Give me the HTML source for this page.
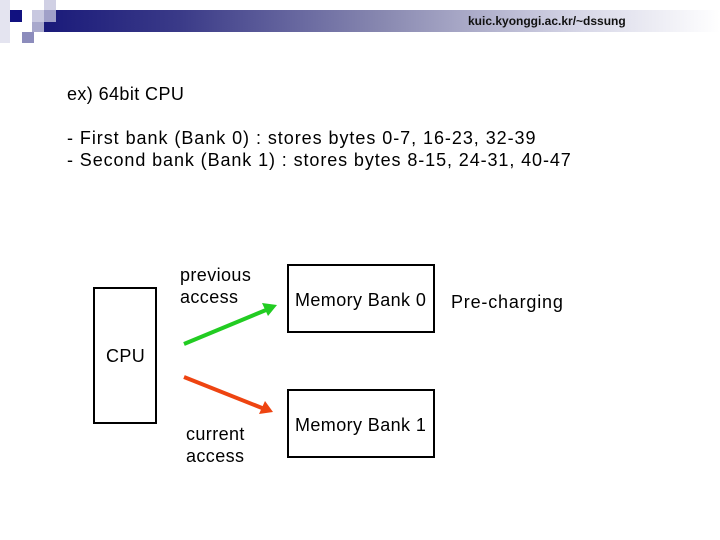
<!DOCTYPE html>
<html><head><meta charset="utf-8"><style>
body{margin:0;width:720px;height:540px;background:#fff;position:relative;overflow:hidden;font-family:"Liberation Sans",sans-serif;color:#000}
.a{position:absolute}
.t{position:absolute;font-size:18px;white-space:nowrap;line-height:22px;letter-spacing:0.4px}
.box{position:absolute;border:2px solid #000;box-sizing:border-box}
</style></head><body>
<div class="a" style="left:44px;top:10px;width:676px;height:22px;background:linear-gradient(to right,#1a1a7a 0%,#3a3a88 20%,#8888b0 50%,#d8d8e8 80%,#fff 100%)"></div>
<div class="a" style="left:0;top:0;width:10px;height:43px;background:#e4e4f0"></div>
<div class="a" style="left:10px;top:10px;width:12px;height:12px;background:#111180"></div>
<div class="a" style="left:32px;top:10px;width:12px;height:12px;background:#c8c8e0"></div>
<div class="a" style="left:44px;top:0;width:12px;height:10px;background:#d0d0e4"></div>
<div class="a" style="left:44px;top:10px;width:12px;height:12px;background:#a0a0c8"></div>
<div class="a" style="left:32px;top:22px;width:12px;height:10px;background:#a8a8cc"></div>
<div class="a" style="left:22px;top:32px;width:12px;height:11px;background:#8c8cbc"></div>
<div class="t" style="left:468px;top:11px;font-size:12px;line-height:20px;font-weight:bold;color:#111;letter-spacing:0">kuic.kyonggi.ac.kr/~dssung</div>
<div class="t" style="left:67px;top:83px;letter-spacing:0.4px">ex) 64bit CPU</div>
<div class="t" style="left:67px;top:127px;letter-spacing:0.95px">- First bank (Bank 0) : stores bytes 0-7, 16-23, 32-39</div>
<div class="t" style="left:67px;top:149px;letter-spacing:0.9px">- Second bank (Bank 1) : stores bytes 8-15, 24-31, 40-47</div>
<div class="box" style="left:93px;top:287px;width:64px;height:137px"></div>
<div class="t" style="left:106px;top:345px">CPU</div>
<div class="box" style="left:287px;top:264px;width:148px;height:69px"></div>
<div class="t" style="left:295px;top:289px">Memory Bank 0</div>
<div class="box" style="left:287px;top:389px;width:148px;height:69px"></div>
<div class="t" style="left:295px;top:414px">Memory Bank 1</div>
<div class="t" style="left:451px;top:291px;letter-spacing:0.8px">Pre-charging</div>
<div class="t" style="left:180px;top:264px">previous<br>access</div>
<div class="t" style="left:186px;top:423px">current<br>access</div>
<svg class="a" style="left:0;top:0" width="720" height="540">
<line x1="184" y1="344" x2="266" y2="310" stroke="#22cc22" stroke-width="4"/>
<polygon points="277,305 262,303 268,316" fill="#22cc22"/>
<line x1="184" y1="377" x2="262" y2="408" stroke="#ee4411" stroke-width="4"/>
<polygon points="273,412 265,401 259,414" fill="#ee4411"/>
</svg>
</body></html>
